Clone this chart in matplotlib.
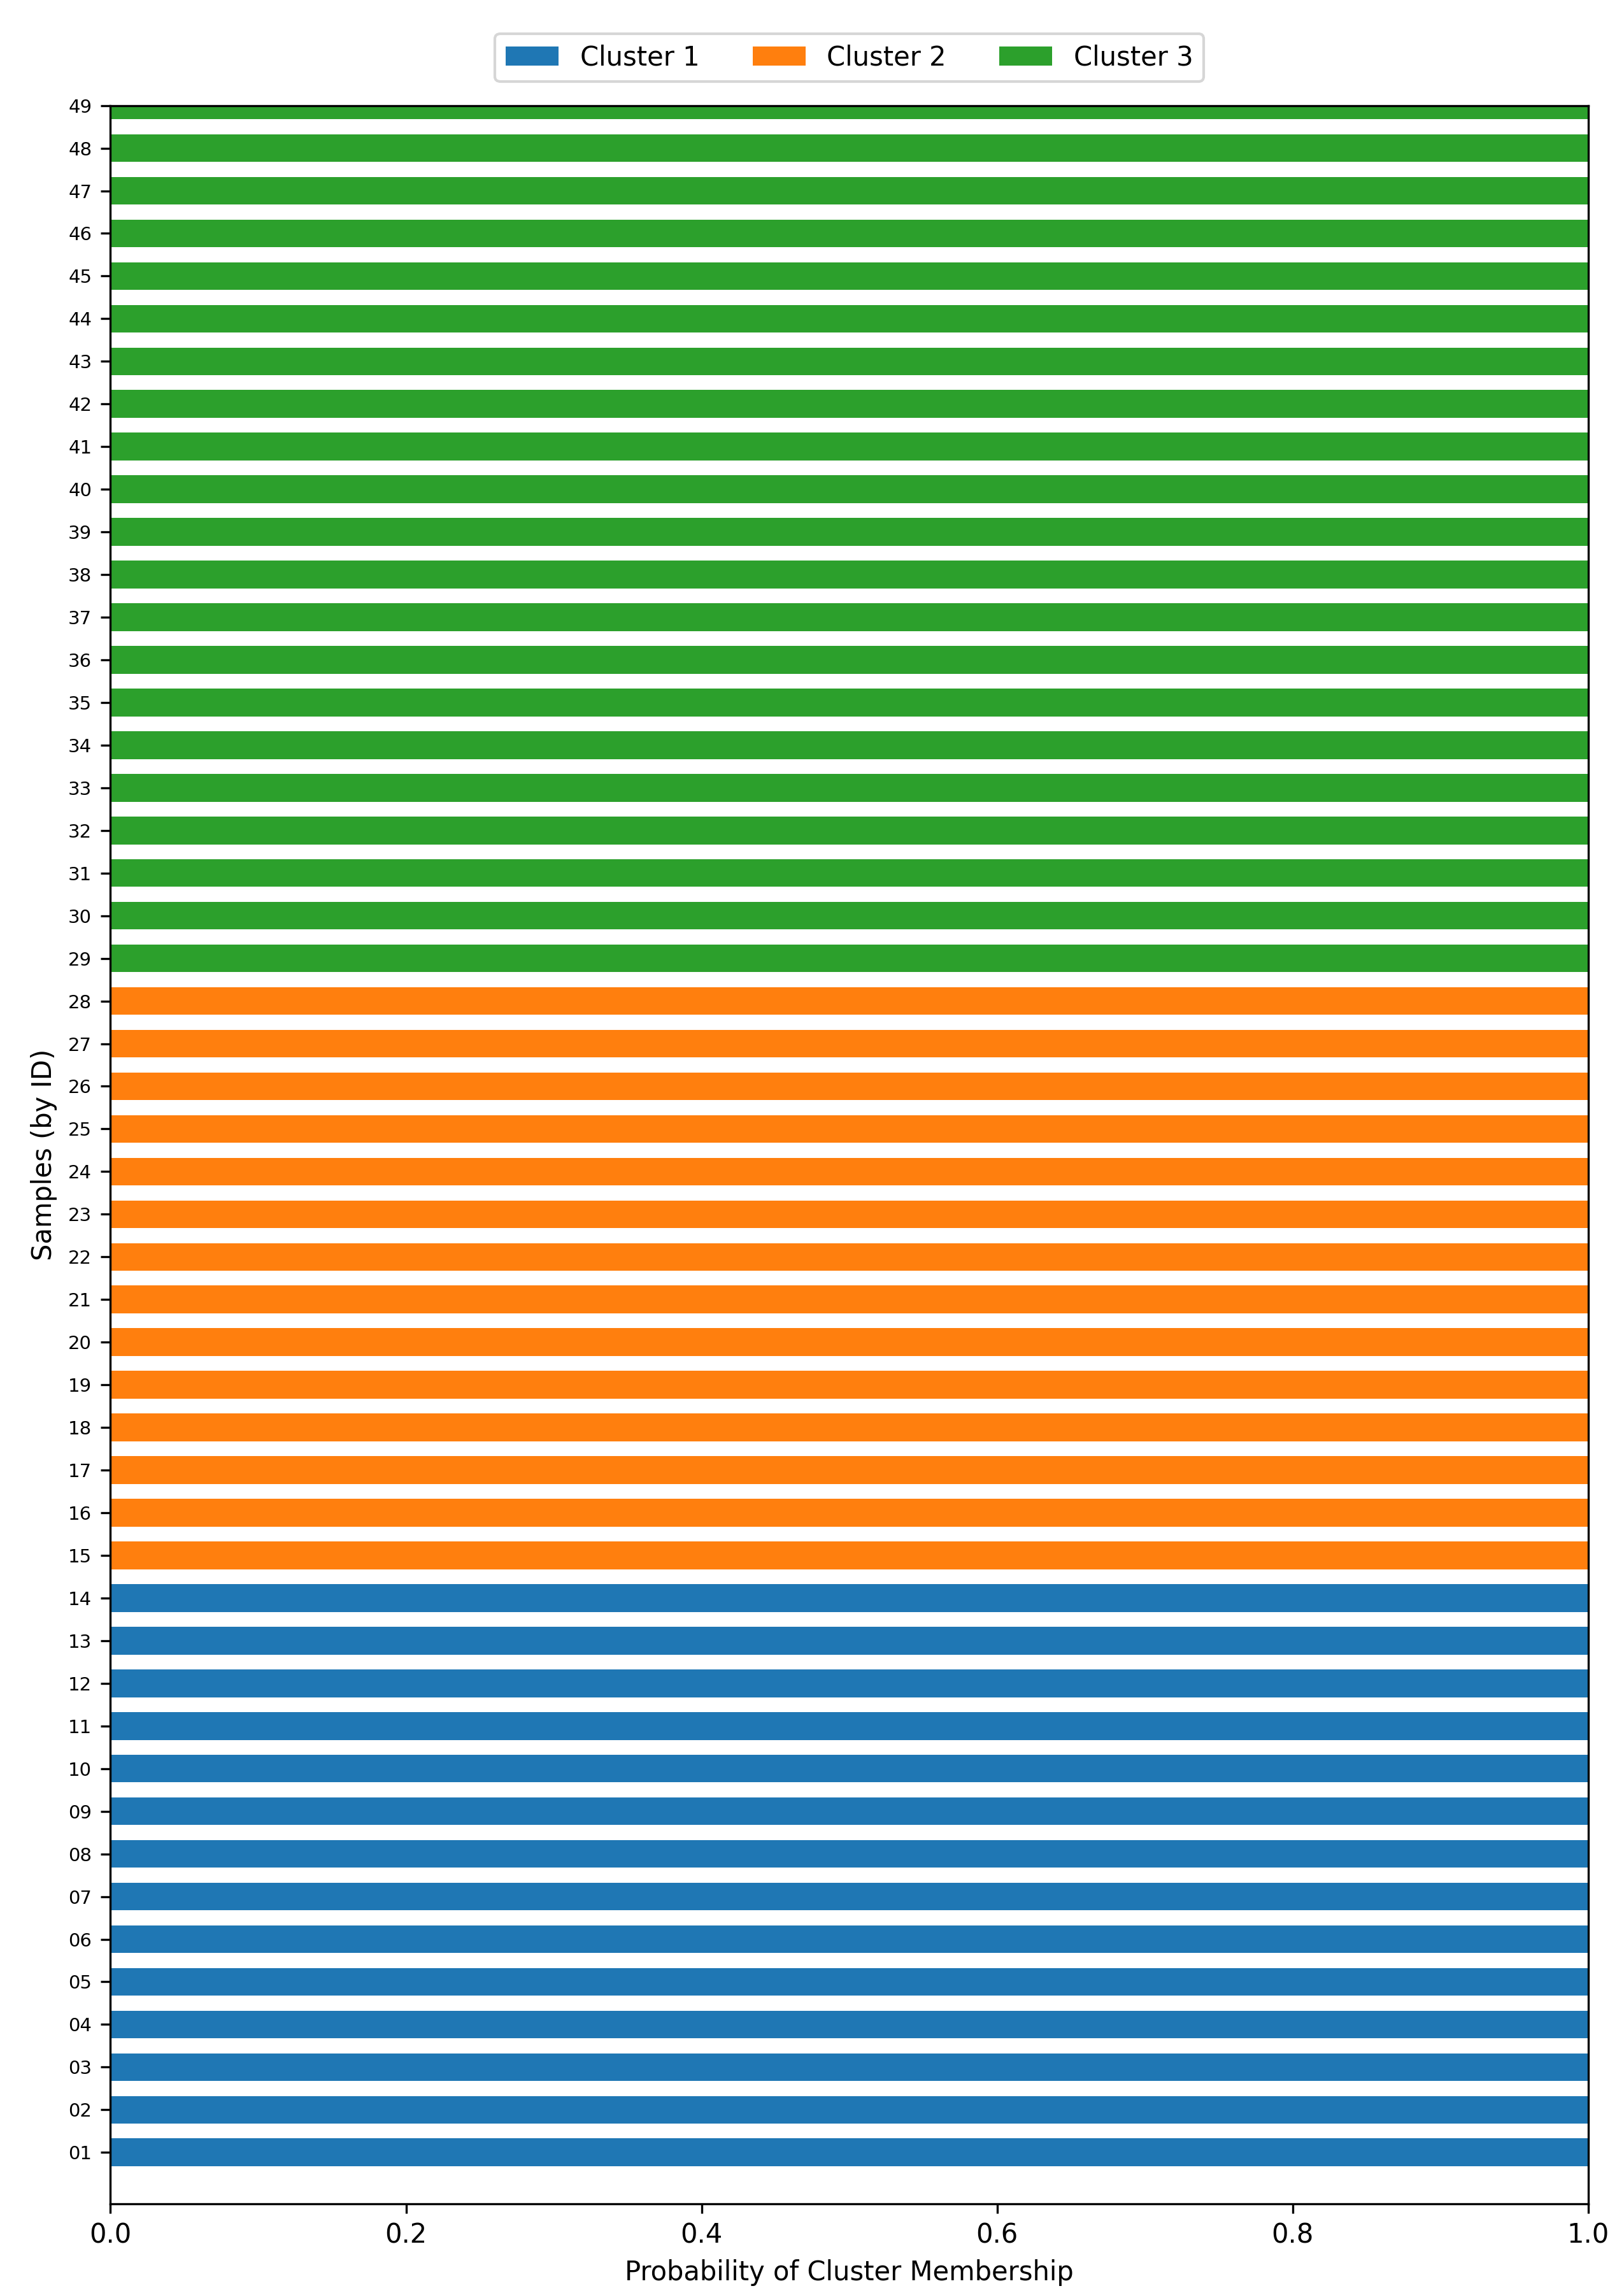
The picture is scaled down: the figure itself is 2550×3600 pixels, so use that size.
import numpy as np
import matplotlib.pyplot as plt

sample_ids = ["%02d" % i for i in range(1, 50)]
cluster_names = ["Cluster 1", "Cluster 2", "Cluster 3"]
# membership probabilities per sample (rows) and cluster (cols)
cluster1 = [1.0] * 14 + [0.0] * 14 + [0.0] * 21
cluster2 = [0.0] * 14 + [1.0] * 14 + [0.0] * 21
cluster3 = [0.0] * 14 + [0.0] * 14 + [1.0] * 21
colors = ["#1f77b4", "#ff7f0e", "#2ca02c"]

fig = plt.figure(figsize=(8.5, 12), dpi=300)
ax = fig.add_axes([0.068, 0.039, 0.91, 0.915])

y = np.arange(len(sample_ids))
left = np.zeros(len(sample_ids))
for name, vals, c in zip(cluster_names, [cluster1, cluster2, cluster3], colors):
    ax.barh(y, vals, left=left, height=0.65, color=c, label=name)
    left += np.array(vals)

ax.set_yticks(y)
ax.set_yticklabels(sample_ids, fontsize=7)
ax.set_ylim(-1.2, 48)
ax.set_xlim(0, 1)
ax.set_xlabel("Probability of Cluster Membership")
ax.set_ylabel("Samples (by ID)")
ax.legend(loc="lower center", bbox_to_anchor=(0.5, 1.005), ncol=3)

fig.savefig("out.png")
